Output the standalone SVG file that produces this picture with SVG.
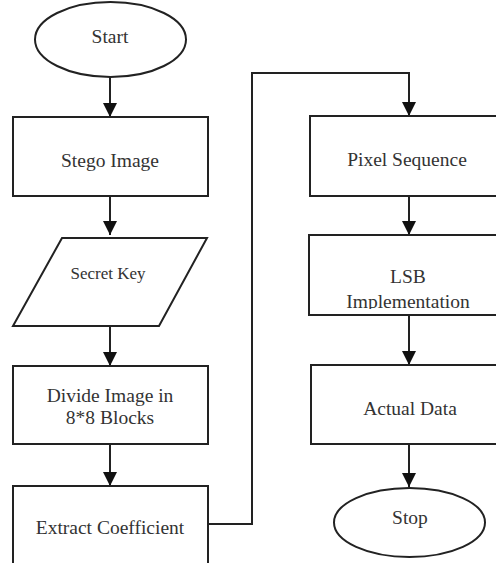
<svg xmlns="http://www.w3.org/2000/svg" width="496" height="563" viewBox="0 0 496 563">
<defs>
<style>
.s{fill:#fff;stroke:#222;stroke-width:2}
.c{fill:none;stroke:#222;stroke-width:2}
.t{font-family:'Liberation Serif','DejaVu Serif','Times New Roman',serif;font-size:19.5px;fill:#333;text-anchor:middle}
.sm{font-size:17px}
</style>
<marker id="ah" markerUnits="userSpaceOnUse" markerWidth="16" markerHeight="16" viewBox="0 0 16 16" refX="14" refY="8" orient="auto">
<path d="M0,1 L14,8 L0,15 Z" fill="#111"/>
</marker>
<clipPath id="lsbclip"><rect x="310" y="236" width="200" height="73"/></clipPath>
</defs>
<rect width="496" height="563" fill="#fff"/>
<g id="connectors">
<line class="c" x1="110" y1="77" x2="110" y2="117" marker-end="url(#ah)"/>
<line class="c" x1="110" y1="196" x2="110" y2="235" marker-end="url(#ah)"/>
<line class="c" x1="110" y1="326" x2="110" y2="366" marker-end="url(#ah)"/>
<line class="c" x1="110" y1="444" x2="110" y2="486" marker-end="url(#ah)"/>
<polyline class="c" points="208,524 252,524 252,73 409,73 409,116" marker-end="url(#ah)"/>
<line class="c" x1="409" y1="196" x2="409" y2="235" marker-end="url(#ah)"/>
<line class="c" x1="409" y1="315" x2="409" y2="365" marker-end="url(#ah)"/>
<line class="c" x1="409" y1="444" x2="409" y2="487" marker-end="url(#ah)"/>
</g>
<g id="start">
<ellipse class="s" cx="110.5" cy="39.5" rx="75.5" ry="37.5"/>
<text class="t" x="110" y="43">Start</text>
</g>
<g id="stego">
<rect class="s" x="13" y="117" width="195" height="79"/>
<text class="t" x="110" y="167">Stego Image</text>
</g>
<g id="secret">
<polygon class="s" points="62,238 207,238 159,326 13,326"/>
<text class="t sm" x="108" y="279">Secret Key</text>
</g>
<g id="divide">
<rect class="s" x="13" y="366" width="195" height="78"/>
<text class="t" x="110" y="402">Divide Image in</text>
<text class="t" x="110" y="424">8*8 Blocks</text>
</g>
<g id="extract">
<rect class="s" x="13" y="486" width="195" height="90"/>
<text class="t" x="110" y="534">Extract Coefficient</text>
</g>
<g id="pixel">
<rect class="s" x="310" y="116" width="200" height="80"/>
<text class="t" x="407" y="166">Pixel Sequence</text>
</g>
<g id="lsb">
<rect class="s" x="309" y="235" width="201" height="80"/>
<g clip-path="url(#lsbclip)">
<text class="t" x="408" y="283">LSB</text>
<text class="t" x="408" y="308">Implementation</text>
</g>
</g>
<g id="actual">
<rect class="s" x="311" y="365" width="199" height="79"/>
<text class="t" x="410" y="415">Actual Data</text>
</g>
<g id="stop">
<ellipse class="s" cx="409.5" cy="522.5" rx="75.5" ry="34.5"/>
<text class="t" x="410" y="524">Stop</text>
</g>
</svg>
